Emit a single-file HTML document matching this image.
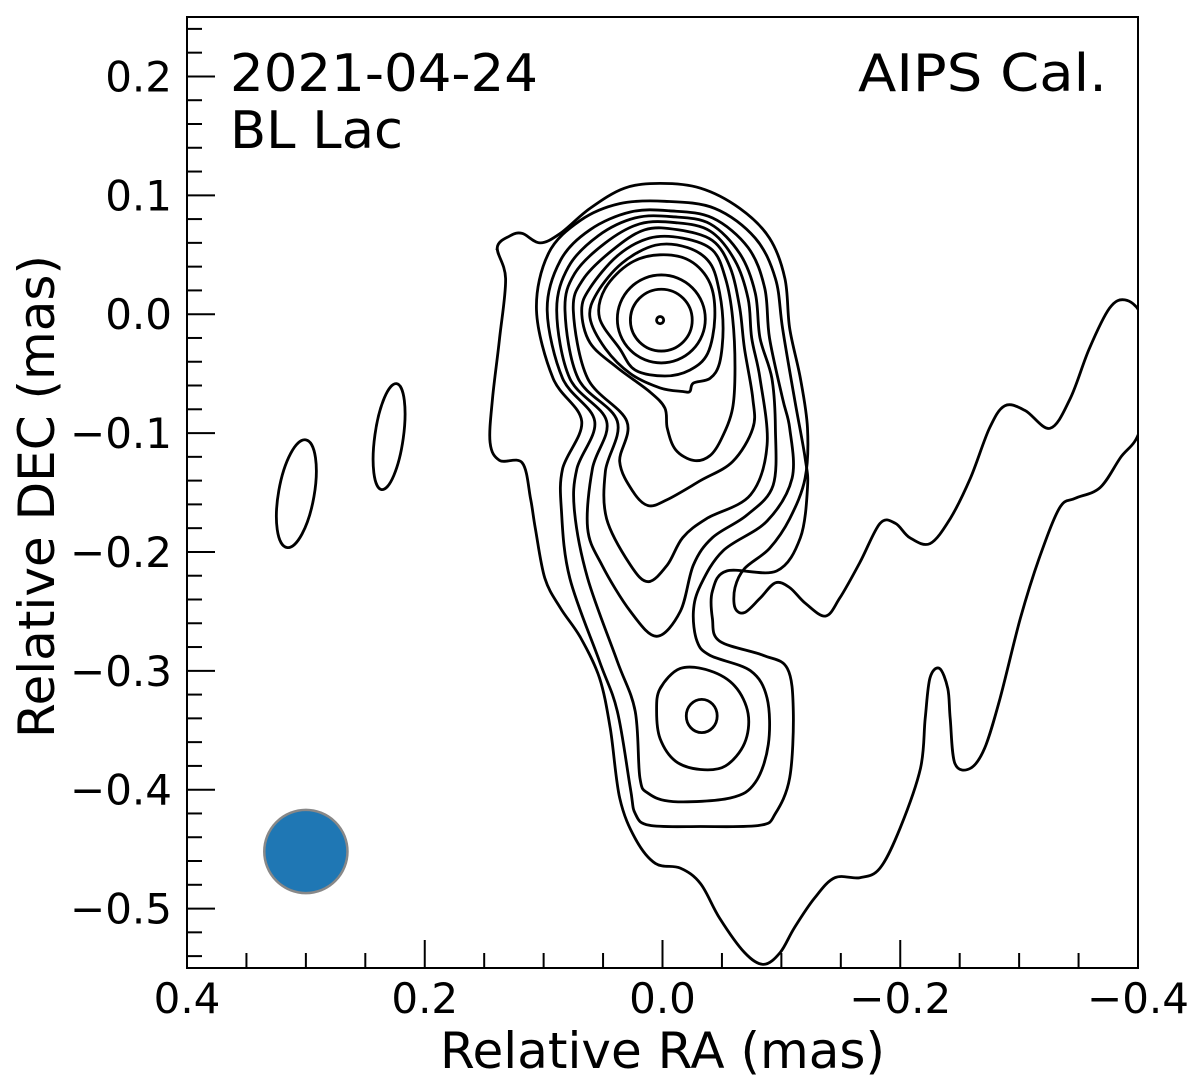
<!DOCTYPE html>
<html><head><meta charset="utf-8"><style>
body{margin:0;background:#fff}
svg text{font-family:"DejaVu Sans","Liberation Sans",sans-serif;fill:#000}
</style></head><body>
<svg id="chart" width="1200" height="1081" viewBox="0 0 1200 1081" xmlns="http://www.w3.org/2000/svg">
<defs><clipPath id="clip"><rect x="187" y="17" width="951" height="951"/></clipPath></defs>
<g id="marks" clip-path="url(#clip)"></g>
<g id="axes"></g>
<text x="230" y="91" font-size="52" textLength="308" lengthAdjust="spacingAndGlyphs">2021-04-24</text>
<text x="230" y="148" font-size="52" textLength="173" lengthAdjust="spacingAndGlyphs">BL Lac</text>
<text x="858" y="91" font-size="52" textLength="249" lengthAdjust="spacingAndGlyphs">AIPS Cal.</text>
<text x="440" y="1068" font-size="50" textLength="445" lengthAdjust="spacingAndGlyphs">Relative RA (mas)</text>
<text transform="translate(54,738) rotate(-90)" font-size="50" textLength="483" lengthAdjust="spacingAndGlyphs">Relative DEC (mas)</text>
</svg>
<script>
const xTicks=[0.4,0.2,0.0,-0.2,-0.4];
const xTickLabels=["0.4","0.2","0.0","\u22120.2","\u22120.4"];
const yTicks=[0.2,0.1,0.0,-0.1,-0.2,-0.3,-0.4,-0.5];
const yTickLabels=["0.2","0.1","0.0","\u22120.1","\u22120.2","\u22120.3","\u22120.4","\u22120.5"];
const contour1=[[0.139,0.056],[0.128,0.066],[0.118,0.068],[0.103,0.060],[0.086,0.068],[0.061,0.089],[0.032,0.106],[0.002,0.110],[-0.032,0.106],[-0.065,0.089],[-0.090,0.064],[-0.103,0.030],[-0.107,-0.012],[-0.116,-0.054],[-0.122,-0.096],[-0.120,-0.138],[-0.107,-0.172],[-0.090,-0.197],[-0.069,-0.214],[-0.061,-0.230],[-0.061,-0.247],[-0.069,-0.251],[-0.082,-0.239],[-0.095,-0.226],[-0.107,-0.230],[-0.120,-0.243],[-0.137,-0.254],[-0.149,-0.239],[-0.166,-0.209],[-0.183,-0.176],[-0.196,-0.176],[-0.208,-0.188],[-0.225,-0.193],[-0.242,-0.172],[-0.259,-0.138],[-0.275,-0.096],[-0.288,-0.077],[-0.305,-0.081],[-0.326,-0.096],[-0.343,-0.071],[-0.359,-0.029],[-0.376,0.005],[-0.389,0.012],[-0.402,0.001],[-0.410,-0.029],[-0.402,-0.096],[-0.385,-0.121],[-0.368,-0.146],[-0.347,-0.155],[-0.334,-0.163],[-0.317,-0.205],[-0.301,-0.256],[-0.284,-0.323],[-0.271,-0.365],[-0.259,-0.382],[-0.246,-0.378],[-0.242,-0.340],[-0.240,-0.315],[-0.233,-0.298],[-0.225,-0.306],[-0.221,-0.340],[-0.217,-0.382],[-0.200,-0.432],[-0.183,-0.466],[-0.166,-0.474],[-0.145,-0.474],[-0.128,-0.491],[-0.111,-0.516],[-0.099,-0.537],[-0.085,-0.547],[-0.069,-0.537],[-0.048,-0.508],[-0.032,-0.479],[-0.015,-0.466],[0.006,-0.462],[0.023,-0.441],[0.036,-0.407],[0.044,-0.348],[0.053,-0.306],[0.069,-0.272],[0.086,-0.247],[0.099,-0.222],[0.107,-0.180],[0.111,-0.155],[0.118,-0.125],[0.137,-0.123],[0.145,-0.108],[0.143,-0.071],[0.137,-0.020],[0.132,0.030]];
const contour2=[[0.096,0.051],[0.069,0.079],[0.036,0.093],[-0.002,0.095],[-0.044,0.089],[-0.078,0.064],[-0.095,0.030],[-0.101,-0.012],[-0.111,-0.071],[-0.120,-0.121],[-0.122,-0.146],[-0.116,-0.188],[-0.096,-0.216],[-0.054,-0.216],[-0.042,-0.233],[-0.042,-0.256],[-0.048,-0.275],[-0.085,-0.287],[-0.105,-0.298],[-0.110,-0.334],[-0.107,-0.390],[-0.095,-0.420],[-0.082,-0.430],[-0.032,-0.431],[0.011,-0.430],[0.023,-0.420],[0.027,-0.399],[0.038,-0.334],[0.053,-0.292],[0.078,-0.222],[0.085,-0.166],[0.084,-0.130],[0.068,-0.090],[0.092,-0.054],[0.106,0.003]];
const contour3=[[0.086,0.045],[0.061,0.071],[0.027,0.086],[-0.006,0.087],[-0.042,0.081],[-0.072,0.056],[-0.086,0.022],[-0.090,-0.020],[-0.101,-0.071],[-0.107,-0.096],[-0.109,-0.138],[-0.088,-0.174],[-0.051,-0.199],[-0.032,-0.228],[-0.026,-0.250],[-0.029,-0.275],[-0.040,-0.287],[-0.074,-0.300],[-0.088,-0.323],[-0.089,-0.362],[-0.078,-0.394],[-0.057,-0.407],[-0.009,-0.410],[0.012,-0.403],[0.019,-0.390],[0.023,-0.334],[0.038,-0.292],[0.063,-0.222],[0.074,-0.166],[0.072,-0.130],[0.057,-0.090],[0.084,-0.054],[0.097,0.003]];
const contour4=[[0.079,0.040],[0.054,0.066],[0.023,0.081],[-0.008,0.082],[-0.040,0.076],[-0.065,0.051],[-0.078,0.018],[-0.082,-0.020],[-0.092,-0.054],[-0.095,-0.096],[-0.093,-0.144],[-0.071,-0.169],[-0.042,-0.188],[-0.026,-0.211],[-0.015,-0.250],[0.005,-0.271],[0.027,-0.250],[0.051,-0.211],[0.063,-0.180],[0.059,-0.130],[0.047,-0.090],[0.078,-0.054],[0.089,0.003]];
const contour4Island=[[0.002,-0.315],[-0.015,-0.298],[-0.040,-0.300],[-0.061,-0.313],[-0.072,-0.336],[-0.069,-0.361],[-0.053,-0.380],[-0.032,-0.383],[-0.011,-0.376],[0.002,-0.357],[0.005,-0.334]];
const contour5=[[0.074,0.034],[0.048,0.060],[0.019,0.076],[-0.011,0.077],[-0.040,0.070],[-0.061,0.045],[-0.072,0.013],[-0.075,-0.020],[-0.082,-0.054],[-0.088,-0.110],[-0.074,-0.152],[-0.037,-0.172],[-0.017,-0.188],[-0.004,-0.211],[0.012,-0.225],[0.027,-0.211],[0.047,-0.172],[0.048,-0.132],[0.038,-0.090],[0.071,-0.054],[0.082,0.003]];
const contour6=[[0.067,0.029],[0.042,0.054],[0.015,0.071],[-0.013,0.071],[-0.042,0.062],[-0.057,0.039],[-0.065,0.005],[-0.069,-0.029],[-0.076,-0.071],[-0.076,-0.096],[-0.059,-0.124],[-0.032,-0.140],[-0.004,-0.156],[0.012,-0.161],[0.025,-0.149],[0.036,-0.124],[0.030,-0.090],[0.063,-0.054],[0.075,0.003]];
const contour7=[[0.061,0.022],[0.038,0.049],[0.011,0.064],[-0.017,0.064],[-0.042,0.054],[-0.053,0.030],[-0.059,-0.003],[-0.061,-0.045],[-0.059,-0.079],[-0.050,-0.104],[-0.040,-0.119],[-0.026,-0.123],[-0.011,-0.114],[-0.004,-0.096],[-0.002,-0.079],[0.011,-0.065],[0.038,-0.045],[0.061,-0.024],[0.068,0.003]];
const contour8=[[0.055,0.018],[0.034,0.043],[0.006,0.058],[-0.021,0.056],[-0.040,0.043],[-0.048,0.018],[-0.051,-0.012],[-0.048,-0.041],[-0.040,-0.054],[-0.026,-0.058],[-0.023,-0.065],[-0.017,-0.065],[0.002,-0.062],[0.027,-0.050],[0.048,-0.029],[0.061,-0.003]];
const contour9=[[0.048,0.022],[0.027,0.043],[0.002,0.050],[-0.023,0.045],[-0.040,0.026],[-0.044,-0.003],[-0.038,-0.033],[-0.023,-0.047],[-0.002,-0.052],[0.023,-0.047],[0.036,-0.029],[0.053,-0.003]];
const contourPolys=[contour1,contour2,contour3,contour4,contour4Island,contour5,contour6,contour7,contour8,contour9];
// elliptical contours: [ra, dec, rxMas, ryMas, tiltDeg]
const ellipseContours=[[0.001,-0.004,0.037,0.037,0],[0.001,-0.005,0.026,0.026,0],[0.002,-0.005,0.003,0.003,0],[-0.033,-0.338,0.013,0.014,0],[0.308,-0.151,0.015,0.046,10],[0.230,-0.103,0.012,0.045,8]];
const beam=[0.300,-0.452,0.035];

const NS="http://www.w3.org/2000/svg";
const L=187,R=1138,T=17,B=968;
const xMin=0.4,xMax=-0.4,yMax=0.25,yMin=-0.55;
const sx=v=>L+(xMin-v)/(xMin-xMax)*(R-L);
const sy=v=>T+(yMax-v)/(yMax-yMin)*(B-T);
const scl=(R-L)/(xMin-xMax);
const marks=document.getElementById('marks'),axes=document.getElementById('axes');
function mk(tag,attrs,parent){const e=document.createElementNS(NS,tag);for(const k in attrs)e.setAttribute(k,attrs[k]);parent.appendChild(e);return e;}
function smooth(pts){const n=pts.length;let d=`M${pts[0][0]},${pts[0][1]}`;
 for(let i=0;i<n;i++){const p0=pts[(i-1+n)%n],p1=pts[i],p2=pts[(i+1)%n],p3=pts[(i+2)%n];
  const c1=[p1[0]+(p2[0]-p0[0])/6,p1[1]+(p2[1]-p0[1])/6],c2=[p2[0]-(p3[0]-p1[0])/6,p2[1]-(p3[1]-p1[1])/6];
  d+=`C${c1[0].toFixed(1)},${c1[1].toFixed(1)} ${c2[0].toFixed(1)},${c2[1].toFixed(1)} ${p2[0].toFixed(1)},${p2[1].toFixed(1)}`;}
 return d+'Z';}
contourPolys.forEach((c,i)=>{
 const p=mk('path',{d:smooth(c.map(q=>[sx(q[0]),sy(q[1])])),fill:'none',stroke:'#000','stroke-width':2.8},marks);
 
 
});
ellipseContours.forEach((e,i)=>{
 const el=mk('ellipse',{cx:sx(e[0]),cy:sy(e[1]),rx:e[2]*scl,ry:e[3]*scl,fill:'none',stroke:'#000','stroke-width':2.8,transform:`rotate(${e[4]} ${sx(e[0])} ${sy(e[1])})`},marks);
 
 
});
const bm=mk('circle',{cx:sx(beam[0]),cy:sy(beam[1]),r:beam[2]*scl,fill:'#1f77b4',stroke:'#888','stroke-width':2.5},marks);


const fr=mk('rect',{x:L,y:T,width:R-L,height:B-T,fill:'none',stroke:'#000','stroke-width':2},axes);


for(let k=0;k<=16;k++){const v=0.4-k*0.05,x=sx(v),maj=(k%4===0);
 const t=mk('line',{x1:x,x2:x,y1:B,y2:B-(maj?28:15),stroke:'#000','stroke-width':2},axes);
 
 }
xTicks.forEach((v,i)=>{const t=mk('text',{x:sx(v),y:1013,'font-size':42,'text-anchor':'middle'},axes);t.textContent=xTickLabels[i];
 
 });
for(let k=0;k<=40;k++){const v=0.24-k*0.02;if(v<yMin-1e-9)break;const y=sy(v),maj=Math.abs(Math.round(v*100))%10===0;
 const t=mk('line',{x1:L,x2:L+(maj?28:15),y1:y,y2:y,stroke:'#000','stroke-width':2},axes);
 
 }
yTicks.forEach((v,i)=>{const t=mk('text',{x:172,y:sy(v)+15,'font-size':42,'text-anchor':'end'},axes);t.textContent=yTickLabels[i];
 
 });
</script>
</body></html>
